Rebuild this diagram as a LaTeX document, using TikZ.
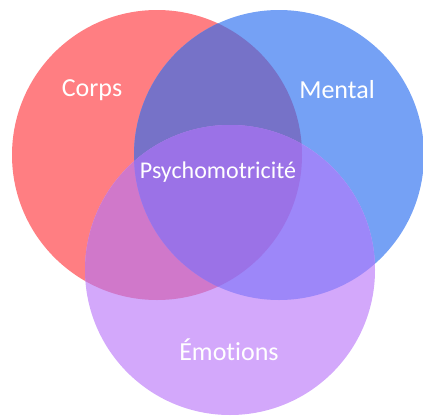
\documentclass[tikz,border=0pt]{standalone}
\usepackage{fontspec}
\setmainfont{Carlito}[Ligatures=NoCommon]

\definecolor{corpscol}{HTML}{FF7E82}
\definecolor{mentalcol}{HTML}{75A1F5}
\definecolor{emocol}{HTML}{D3A8FB}
\definecolor{cmcol}{HTML}{7672C8}
\definecolor{cecol}{HTML}{D078CA}
\definecolor{mecol}{HTML}{9D87F9}
\definecolor{allcol}{HTML}{9B72E7}

\tikzset{
  venntext/.style={text=white,font=\fontsize{26}{30}\selectfont,inner sep=0pt},
  centretext/.style={text=white,font=\fontsize{24}{28}\selectfont,inner sep=0pt},
}

\def\corps{(157,155) circle (145)}
\def\mental{(279,155) circle (145)}
\def\emotions{(230,270) circle (145)}

\begin{document}
\begin{tikzpicture}[x=1pt,y=-1pt]
\useasboundingbox (0,0) rectangle (423,415);
\clip (0,0) rectangle (423,415);

\fill[corpscol] \corps;
\fill[mentalcol] \mental;
\fill[emocol] \emotions;

% intersections
\begin{scope}
  \clip \corps;
  \fill[cmcol] \mental;
  \fill[cecol] \emotions;
\end{scope}
\begin{scope}
  \clip \mental;
  \fill[mecol] \emotions;
\end{scope}
\begin{scope}
  \clip \corps;
  \clip \mental;
  \fill[allcol] \emotions;
\end{scope}

\node[venntext] (corps) at (92,90) {Corps};
\node[venntext] (mental) at (337,90) {Mental};
\node[centretext] (psy) at (218,172) {Psychomotricité};
\node[venntext] (emotions) at (229,350) {Émotions};

\end{tikzpicture}
\end{document}
